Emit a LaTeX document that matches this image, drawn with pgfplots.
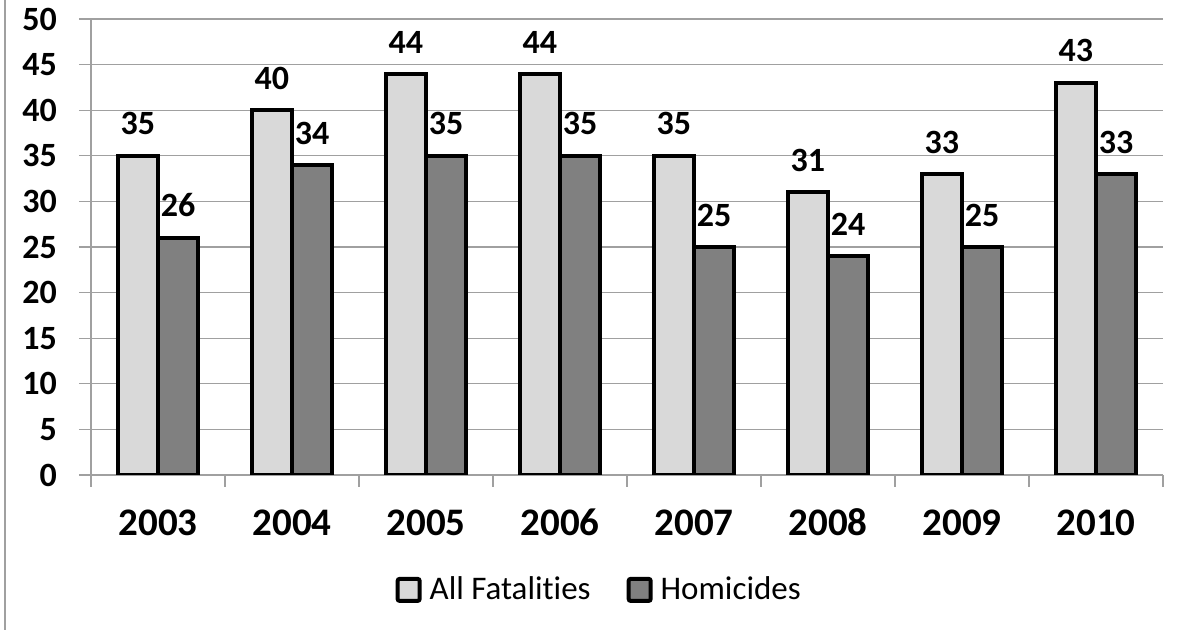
\documentclass[border=0pt]{standalone}
\usepackage{pgfplots}
\pgfplotsset{compat=1.18}
\usepackage{fontspec}
\setmainfont[Ligatures=NoCommon]{Carlito}
\definecolor{lightbar}{RGB}{217,217,217}
\definecolor{darkbar}{RGB}{128,128,128}
\definecolor{gridgray}{RGB}{160,160,160}

\pgfplotstableread{
idx all hom
0 35 26
1 40 34
2 44 35
3 44 35
4 35 25
5 31 24
6 33 25
7 43 33
}\fatalities

\begin{document}
\begin{tikzpicture}
\path[use as bounding box] (0pt,0pt) rectangle (592pt,315pt);
\draw[gridgray,line width=1pt] (2.5pt,0pt) -- (2.5pt,315pt);
\begin{axis}[
    at={(45.5pt,77.5pt)}, anchor=south west,
    scale only axis,
    width=536pt, height=228pt,
    xmin=-0.5, xmax=7.5,
    ymin=0, ymax=50,
    ytick={0,5,...,50},
    xtick={0,...,7},
    xticklabels={2003,2004,2005,2006,2007,2008,2009,2010},
    minor xtick={-0.5,0.5,...,7.5},
    major x tick style={draw=none},
    tick align=outside,
    major tick length=6pt,
    minor tick length=6pt,
    tick style={gridgray,line width=0.6pt},
    ymajorgrids,
    grid style={gridgray,line width=0.6pt},
    axis x line*=bottom,
    axis y line*=left,
    axis line style={gridgray,line width=0.6pt,-},
    yticklabel style={font=\fontsize{17}{19}\selectfont\bfseries, xshift=-7.5pt},
    xticklabel style={font=\fontsize{19.5}{22}\selectfont\bfseries, text height=12.5pt, text depth=0pt, yshift=-8pt},
    /pgf/number format/assume math mode=true,
    ybar, bar width=0.3,
    nodes near coords,
    every node near coord/.append style={font=\fontsize{17}{19}\selectfont\bfseries, black, yshift=6pt},
    legend columns=2,
    legend style={at={(0.475,-0.252)}, anchor=center, draw=none,
        font=\fontsize{16.5}{18}\selectfont, /tikz/every even column/.append style={column sep=16pt}},
    legend image code/.code={\draw[#1,/tikz/.cd,line width=2pt,rounded corners=1pt] (0pt,-5.5pt) rectangle (11pt,5.5pt); \path (13pt,0pt);},
]
\addplot[fill=lightbar, draw=black, line width=2pt, bar shift=-0.15] table[x=idx,y=all] {\fatalities};
\addplot[fill=darkbar, draw=black, line width=2pt, bar shift=0.15] table[x=idx,y=hom] {\fatalities};
\legend{All Fatalities, Homicides}
\end{axis}
\end{tikzpicture}
\end{document}
